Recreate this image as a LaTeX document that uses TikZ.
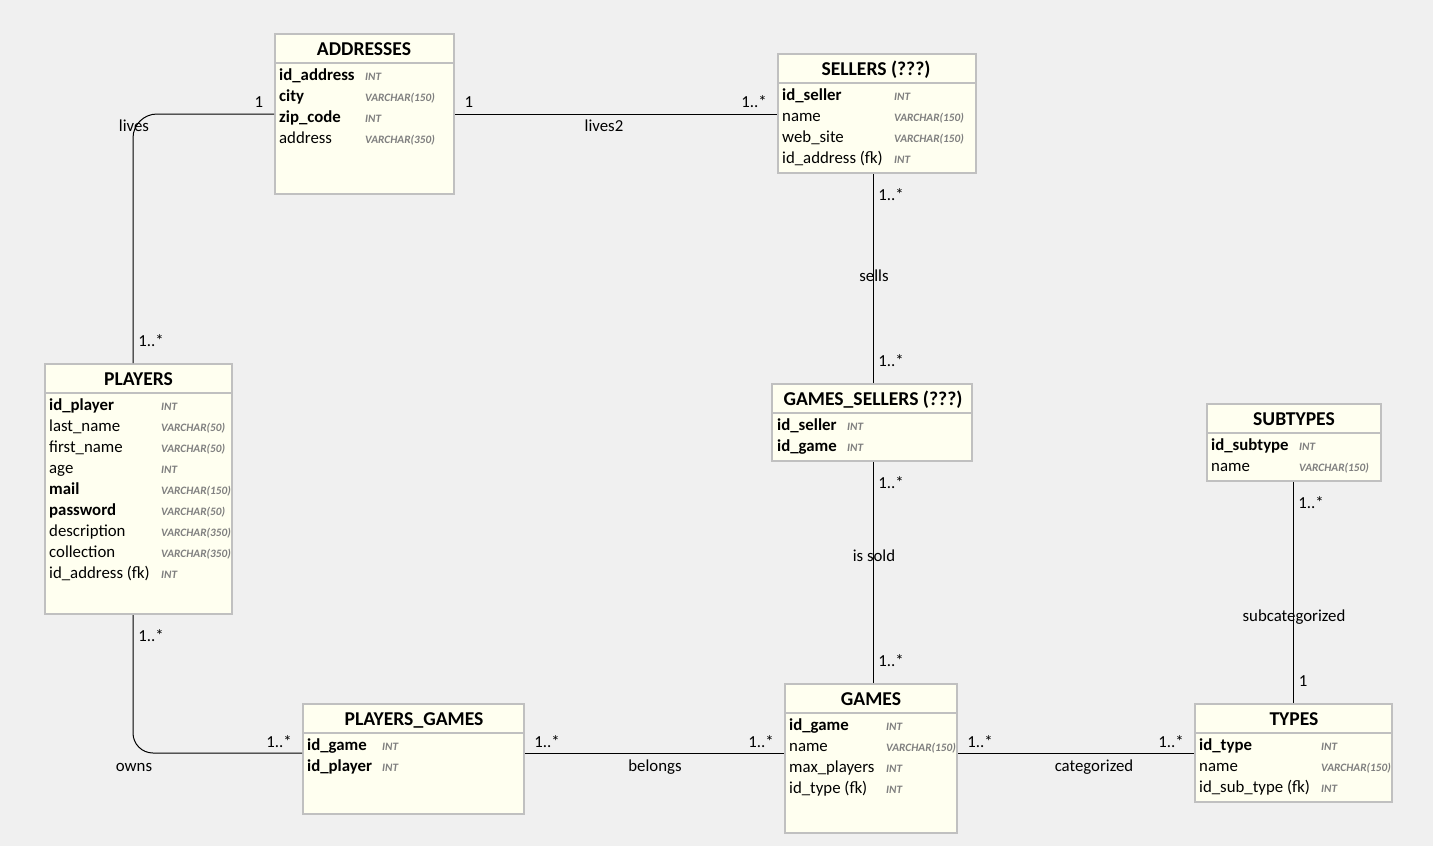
\documentclass[tikz,border=0pt]{standalone}
\usepackage{fontspec}
\setmainfont{Carlito}
\definecolor{bgc}{HTML}{F0F0F0}
\definecolor{tblfill}{HTML}{FFFFF0}
\definecolor{tblline}{HTML}{C0C0C0}
\definecolor{typec}{HTML}{7F7F7F}
\tikzset{
  tbl/.style={draw=tblline, line width=2pt, fill=tblfill, inner sep=0pt, anchor=north west},
  hdr/.style={draw=tblline, line width=2pt},
  ttl/.style={font=\fontsize{19.6}{21}\selectfont\bfseries, anchor=base, inner sep=0pt},
  fld/.style={font=\fontsize{16.8}{19}\selectfont, anchor=base west, inner sep=0pt},
  key/.style={fld, font=\fontsize{16.8}{19}\selectfont\bfseries},
  typ/.style={font=\fontsize{11.3}{13}\selectfont\bfseries\itshape, text=typec, anchor=base west, inner sep=0pt},
  conn/.style={draw=black, line width=1pt},
  lbl/.style={font=\fontsize{16.8}{19}\selectfont, inner sep=0pt, anchor=base},
}
\begin{document}
\begin{tikzpicture}[x=1pt, y=-1pt]
\useasboundingbox[fill=bgc] (0,0) rectangle (1433,846);

% ---------------- ADDRESSES
\node[tbl, minimum width=179pt, minimum height=160pt] (addresses) at (274,33) {};
\draw[hdr] (274,63) -- (453,63);
\node[ttl] (addresses-t) at (364,55) {ADDRESSES};
\node[key] (a1) at (279,80) {id\_address};   \node[typ] (a1t) at (365,80) {INT};
\node[key] (a2) at (279,101) {city};         \node[typ] (a2t) at (365,101) {VARCHAR(150)};
\node[key] (a3) at (279,122) {zip\_code};    \node[typ] (a3t) at (365,122) {INT};
\node[fld] (a4) at (279,143) {address};      \node[typ] (a4t) at (365,143) {VARCHAR(350)};

% ---------------- SELLERS
\node[tbl, minimum width=198pt, minimum height=119pt] (sellers) at (777,53) {};
\draw[hdr] (777,83) -- (975,83);
\node[ttl] (sellers-t) at (876,75) {SELLERS (???)};
\node[key] (s1) at (782,100) {id\_seller};        \node[typ] (s1t) at (894,100) {INT};
\node[fld] (s2) at (782,121) {name};              \node[typ] (s2t) at (894,121) {VARCHAR(150)};
\node[fld] (s3) at (782,142) {web\_site};         \node[typ] (s3t) at (894,142) {VARCHAR(150)};
\node[fld] (s4) at (782,163) {id\_address (fk)};  \node[typ] (s4t) at (894,163) {INT};

% ---------------- PLAYERS
\node[tbl, minimum width=187pt, minimum height=250pt] (players) at (44,363) {};
\draw[hdr] (44,393) -- (231,393);
\node[ttl] (players-t) at (138.5,385) {PLAYERS};
\node[key] (p1) at (49,410) {id\_player};        \node[typ] (p1t) at (161,410) {INT};
\node[fld] (p2) at (49,431) {last\_name};        \node[typ] (p2t) at (161,431) {VARCHAR(50)};
\node[fld] (p3) at (49,452) {first\_name};       \node[typ] (p3t) at (161,452) {VARCHAR(50)};
\node[fld] (p4) at (49,473) {age};               \node[typ] (p4t) at (161,473) {INT};
\node[key] (p5) at (49,494) {mail};              \node[typ] (p5t) at (161,494) {VARCHAR(150)};
\node[key] (p6) at (49,515) {password};          \node[typ] (p6t) at (161,515) {VARCHAR(50)};
\node[fld] (p7) at (49,536) {description};       \node[typ] (p7t) at (161,536) {VARCHAR(350)};
\node[fld] (p8) at (49,557) {collection};        \node[typ] (p8t) at (161,557) {VARCHAR(350)};
\node[fld] (p9) at (49,578) {id\_address (fk)};  \node[typ] (p9t) at (161,578) {INT};

% ---------------- GAMES_SELLERS
\node[tbl, minimum width=200pt, minimum height=77pt] (gs) at (771,383) {};
\draw[hdr] (771,413) -- (971,413);
\node[ttl] (gs-t) at (873,405) {GAMES\_SELLERS (???)};
\node[key] (g1) at (777,430) {id\_seller};  \node[typ] (g1t) at (847,430) {INT};
\node[key] (g2) at (777,451) {id\_game};    \node[typ] (g2t) at (847,451) {INT};

% ---------------- SUBTYPES
\node[tbl, minimum width=174pt, minimum height=77pt] (subtypes) at (1206,403) {};
\draw[hdr] (1206,433) -- (1380,433);
\node[ttl] (subtypes-t) at (1294,425) {SUBTYPES};
\node[key] (st1) at (1211,450) {id\_subtype};  \node[typ] (st1t) at (1299,450) {INT};
\node[fld] (st2) at (1211,471) {name};         \node[typ] (st2t) at (1299,471) {VARCHAR(150)};

% ---------------- PLAYERS_GAMES
\node[tbl, minimum width=221pt, minimum height=110pt] (pg) at (302,703) {};
\draw[hdr] (302,733) -- (523,733);
\node[ttl] (pg-t) at (414,725) {PLAYERS\_GAMES};
\node[key] (pg1) at (307,750) {id\_game};    \node[typ] (pg1t) at (382,750) {INT};
\node[key] (pg2) at (307,771) {id\_player};  \node[typ] (pg2t) at (382,771) {INT};

% ---------------- GAMES
\node[tbl, minimum width=172pt, minimum height=149pt] (games) at (784,683) {};
\draw[hdr] (784,713) -- (956,713);
\node[ttl] (games-t) at (871,705) {GAMES};
\node[key] (gm1) at (789,730) {id\_game};        \node[typ] (gm1t) at (886,730) {INT};
\node[fld] (gm2) at (789,751) {name};            \node[typ] (gm2t) at (886,751) {VARCHAR(150)};
\node[fld] (gm3) at (789,772) {max\_players};    \node[typ] (gm3t) at (886,772) {INT};
\node[fld] (gm4) at (789,793) {id\_type (fk)};   \node[typ] (gm4t) at (886,793) {INT};

% ---------------- TYPES
\node[tbl, minimum width=197pt, minimum height=98pt] (types) at (1194,703) {};
\draw[hdr] (1194,733) -- (1391,733);
\node[ttl] (types-t) at (1294,725) {TYPES};
\node[key] (t1) at (1199,750) {id\_type};           \node[typ] (t1t) at (1321,750) {INT};
\node[fld] (t2) at (1199,771) {name};               \node[typ] (t2t) at (1321,771) {VARCHAR(150)};
\node[fld] (t3) at (1199,792) {id\_sub\_type (fk)}; \node[typ] (t3t) at (1321,792) {INT};

% ---------------- helper coordinates
\coordinate (vp) at (133,0);
\coordinate (vs) at (873,0);
\coordinate (vt) at (1293,0);
\coordinate (hb) at (0,753);

% ---------------- connectors
\draw[conn, rounded corners=24pt] (addresses.west) -| (players.north -| vp);
\draw[conn] (addresses.east) -- (addresses.east -| sellers.west);
\draw[conn] (sellers.south -| vs) -- (gs.north -| vs);
\draw[conn] (gs.south -| vs) -- (games.north -| vs);
\draw[conn] (subtypes.south -| vt) -- (types.north -| vt);
\draw[conn, rounded corners=20pt] (players.south -| vp) |- (pg.west |- hb);
\draw[conn] (pg.east |- hb) -- (games.west |- hb);
\draw[conn] (games.east |- hb) -- (types.west |- hb);

% ---------------- labels
\node[lbl] (l-lives) at (134,131) {lives};
\node[lbl] (l-lives-1) at (259,107) {1};
\node[lbl] (l-lives-n) at (151,346) {1..*};
\node[lbl] (l-lives2) at (604,131) {lives2};
\node[lbl] (l-lives2-1) at (469,107) {1};
\node[lbl] (l-lives2-n) at (754,107) {1..*};
\node[lbl] (l-sells) at (874,281) {sells};
\node[lbl] (l-sells-a) at (891,200) {1..*};
\node[lbl] (l-sells-b) at (891,366) {1..*};
\node[lbl] (l-sold) at (874,561) {is sold};
\node[lbl] (l-sold-a) at (891,488) {1..*};
\node[lbl] (l-sold-b) at (891,666) {1..*};
\node[lbl] (l-sub) at (1294,621) {subcategorized};
\node[lbl] (l-sub-a) at (1311,508) {1..*};
\node[lbl] (l-sub-b) at (1303,686) {1};
\node[lbl] (l-owns) at (134,771) {owns};
\node[lbl] (l-owns-a) at (151,641) {1..*};
\node[lbl] (l-owns-b) at (279,747) {1..*};
\node[lbl] (l-belongs) at (655,771) {belongs};
\node[lbl] (l-belongs-a) at (547,747) {1..*};
\node[lbl] (l-belongs-b) at (761,747) {1..*};
\node[lbl] (l-cat) at (1094,771) {categorized};
\node[lbl] (l-cat-a) at (980,747) {1..*};
\node[lbl] (l-cat-b) at (1171,747) {1..*};
\end{tikzpicture}
\end{document}
